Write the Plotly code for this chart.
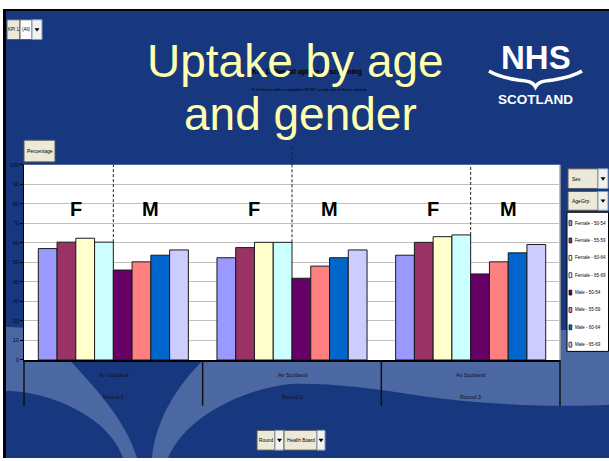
import plotly.graph_objects as go

# ---------------- data ----------------
rounds = ["Round 1", "Round 2", "Round 3"]
board_labels = ["Av Scotland", "Av Scotland", "Av Scotland"]
series_names = ["Female - 50-54", "Female - 55-59", "Female - 60-64", "Female - 65-69",
                "Male - 50-54", "Male - 55-59", "Male - 60-64", "Male - 65-69"]
f_50_54 = [57.1, 52.4, 53.7]
f_55_59 = [60.4, 57.6, 60.3]
f_60_64 = [62.4, 60.3, 63.2]
f_65_69 = [60.4, 60.3, 64.1]
m_50_54 = [46.1, 41.9, 44.1]
m_55_59 = [50.3, 48.1, 50.3]
m_60_64 = [53.7, 52.4, 54.9]
m_65_69 = [56.4, 56.4, 59.2]
series_values = [f_50_54, f_55_59, f_60_64, f_65_69, m_50_54, m_55_59, m_60_64, m_65_69]
bar_colors = ["#9999FF", "#993366", "#FFFFCC", "#CCFFFF",
              "#660066", "#FF8080", "#0066CC", "#CCCCFF"]
y_ticks = [0, 10, 20, 30, 40, 50, 60, 70, 80, 90, 100]
sex_labels = ["F", "M"]
sex_label_height = 77.6
title_lines = ["Uptake by age", "and gender"]
chart_title = "KPI 1. Overall uptake of screening"
chart_subtitle = "% of those with a complete FOBT result out of those invited"

# ---------------- helpers ----------------
W, H = 609, 461
SMALL = "Liberation Sans, Arial, sans-serif"
ARIAL = "Liberation Sans, Arial, sans-serif"
DARK = "#17377E"
LIGHT = "#4B68A3"


def px(x):
    return x / W


def py(y):
    return 1 - y / H


shapes = []
annotations = []


def rect(x0, y0, x1, y1, fill, line=None, lw=1, layer="below"):
    shapes.append(dict(type="rect", xref="paper", yref="paper",
                       x0=px(x0), x1=px(x1), y0=py(y1), y1=py(y0),
                       fillcolor=fill, layer=layer,
                       line=dict(color=line if line else fill, width=lw if line else 0)))


def path(cmds, fill, layer="below", line=None, lw=0):
    # every segment is written out explicitly (no implicit repeated commands)
    s = ""
    for c, pts in cmds:
        if c == "C":
            for k in range(0, len(pts), 3):
                s += "C " + " ".join(f"{px(x):.5f},{py(y):.5f}" for x, y in pts[k:k + 3]) + " "
        else:
            for (x, y) in pts:
                s += f"{c} {px(x):.5f},{py(y):.5f} "
    if fill is not None:
        s += "Z"
    shapes.append(dict(type="path", xref="paper", yref="paper", path=s,
                       fillcolor=fill if fill else "rgba(0,0,0,0)", layer=layer,
                       line=dict(color=line if line else "rgba(0,0,0,0)", width=lw)))


def text(x, y, t, size, color="black", family=SMALL, xanchor="center", bold=False):
    annotations.append(dict(xref="paper", yref="paper", x=px(x), y=py(y),
                            text=f"<b>{t}</b>" if bold else t, showarrow=False,
                            xanchor=xanchor, yanchor="middle",
                            font=dict(size=size, color=color, family=family)))


def button(x0, y0, x1, y1, label, fill="#ECE9D8", align="center", size=5):
    rect(x0, y0, x1, y1, fill, line="#5A5A5A", lw=1, layer="above")
    if align == "center":
        text((x0 + x1) / 2, (y0 + y1) / 2, label, size)
    else:
        text(x0 + 1.5, (y0 + y1) / 2, label, size, xanchor="left")


def dropdown(x0, y0, x1, y1):
    rect(x0, y0, x1, y1, "#F2F2EE", line="#7F9DB9", lw=1, layer="above")
    cx, cy = (x0 + x1) / 2, (y0 + y1) / 2
    path([("M", [(cx - 2.5, cy - 1.5)]), ("L", [(cx + 2.5, cy - 1.5), (cx, cy + 2)])],
         "black", layer="above")


# ---------------- slide background ----------------
rect(3, 6, 609, 461, "black")
rect(6, 8, 609, 461, DARK)
path([("M", [(6, 328)]),
      ("C", [(150, 336), (420, 336), (609, 330)]),
      ("L", [(609, 407)]),
      ("C", [(560, 410), (480, 407), (420, 398)]),
      ("C", [(370, 390), (330, 385), (290, 386)]),
      ("C", [(240, 392), (185, 420), (168, 461)]),
      ("L", [(152, 461)]),
      ("C", [(155, 430), (170, 395), (203, 362)]),
      ("L", [(137, 340), (70, 362)]),
      ("C", [(90, 385), (125, 420), (137, 461)]),
      ("L", [(123, 461)]),
      ("C", [(110, 420), (50, 393), (6, 393)])],
     LIGHT)

# white plot area (drawn over the background)
shapes.append(dict(type="rect", xref="x domain", yref="y domain", x0=0, x1=1, y0=0, y1=1,
                   fillcolor="white", line=dict(width=0), layer="below"))
shapes.append(dict(type="line", xref="x domain", yref="y domain", x0=1, x1=1, y0=0, y1=1,
                   line=dict(color="#A6A6A6", width=1.5), layer="below"))

# ---------------- figure ----------------
fig = go.Figure()
for name, vals, col in zip(series_names, series_values, bar_colors):
    fig.add_trace(go.Bar(x=rounds, y=vals, name=name,
                         marker=dict(color=col, line=dict(color="#1A1A1A", width=1))))

# category dividers under the axis
n = len(rounds)
for k in range(n + 1):
    shapes.append(dict(type="line", xref="x domain", yref="paper", x0=k / n, x1=k / n,
                       y0=py(408), y1=py(361.7), line=dict(color="#111111", width=1.5),
                       layer="above"))

# category labels (two levels)
for r, b in zip(rounds, board_labels):
    annotations.append(dict(xref="x", yref="paper", x=r, y=py(377), text=b, showarrow=False,
                            xanchor="center", yanchor="middle",
                            font=dict(size=5.5, color="#111122", family=SMALL)))
    annotations.append(dict(xref="x", yref="paper", x=r, y=py(399.5), text=r, showarrow=False,
                            xanchor="center", yanchor="middle",
                            font=dict(size=5.5, color="#111122", family=SMALL)))

# dashed separators between F and M halves of each group
for j, r in enumerate(rounds):
    shapes.append(dict(type="line", xref="x", yref="y", x0=j, x1=j, y0=f_65_69[j], y1=100,
                       line=dict(color="#222222", width=1, dash="3px,2px"), layer="above"))
shapes.append(dict(type="line", xref="x", yref="paper", x0=1, x1=1, y0=py(164), y1=py(146),
                   line=dict(color="#222222", width=1, dash="3px,2px"), layer="above"))

# F / M labels
for j, r in enumerate(rounds):
    for s, off in zip(sex_labels, [-0.21, 0.21]):
        annotations.append(dict(xref="x", yref="y", x=j + off, y=sex_label_height, text=f"<b>{s}</b>",
                                showarrow=False, xanchor="center", yanchor="middle",
                                font=dict(size=20, color="black", family=ARIAL)))

# chart title (behind the slide title)
text(307, 69.5, chart_title, 6.8, bold=True)
text(309, 88, chart_subtitle, 4.4)

# slide title
text(295, 59, title_lines[0], 46, color="#FFFFB0", family=ARIAL)
text(300, 112, title_lines[1], 46, color="#FFFFB0", family=ARIAL)

# NHS Scotland logo
text(535.5, 55, "NHS", 33, color="white", family=ARIAL, bold=True)
path([("M", [(489, 69)]), ("C", [(497, 74), (505, 76), (518, 78)]),
      ("C", [(528, 79), (533, 80), (535.5, 85)]),
      ("C", [(538, 80), (543, 79), (553, 78)]),
      ("C", [(566, 76), (574, 74), (582, 69)])], None, layer="above", line="white", lw=3.5)
text(535.5, 97.5, "SCOTLAND", 13.5, color="white", family=ARIAL, bold=True)

# pivot field buttons
button(7, 17, 20, 37, "KPI 1", size=4.5)
button(20, 17, 32, 37, "(All)", fill="white", size=4.5)
dropdown(32, 17, 42, 37)
button(24, 139, 55, 161, "Percentage", size=5)
button(568, 168, 598, 188, "Sex", align="left")
dropdown(598, 168, 608, 188)
button(568, 191, 598, 210, "AgeGrp", align="left")
dropdown(598, 191, 608, 210)
button(257, 433, 275, 453, "Round", size=4.8)
dropdown(275, 433, 284, 453)
button(284, 433, 317, 453, "Health Board", size=4.8)
dropdown(317, 433, 325, 453)

# legend (manual)
rect(567, 212, 608.5, 353, "white", line="black", lw=1, layer="above")
for i, (name, col) in enumerate(zip(series_names, bar_colors)):
    yc = 223 + i * 17.6
    rect(569, yc - 2.5, 571.8, yc + 2.5, col, line="black", lw=0.7, layer="above")
    text(572.8, yc, name, 4.5, xanchor="left")

fig.update_layout(
    width=W, height=H, autosize=False,
    margin=dict(l=0, r=0, t=0, b=0, pad=0),
    paper_bgcolor="white", plot_bgcolor="rgba(0,0,0,0)",
    barmode="group", bargap=0.16, bargroupgap=0,
    showlegend=False,
    shapes=shapes, annotations=annotations,
    xaxis=dict(domain=[px(24), px(560)], showticklabels=False, ticks="",
               showline=True, linecolor="black", linewidth=1.5, showgrid=False,
               fixedrange=True),
    yaxis=dict(domain=[py(361.7), py(164)], range=[0, 100], tickvals=y_ticks,
               ticks="outside", ticklen=3, tickcolor="black", tickwidth=1,
               showline=True, linecolor="black", linewidth=1,
               showgrid=True, gridcolor="#BFBFBF", gridwidth=1, zeroline=False,
               tickfont=dict(size=5.5, color="#0A0A2A", family=SMALL),
               fixedrange=True),
)

fig.write_html("out.html", config={"displayModeBar": False},
               post_script="document.body.style.margin='0';document.body.style.overflow='hidden';")
